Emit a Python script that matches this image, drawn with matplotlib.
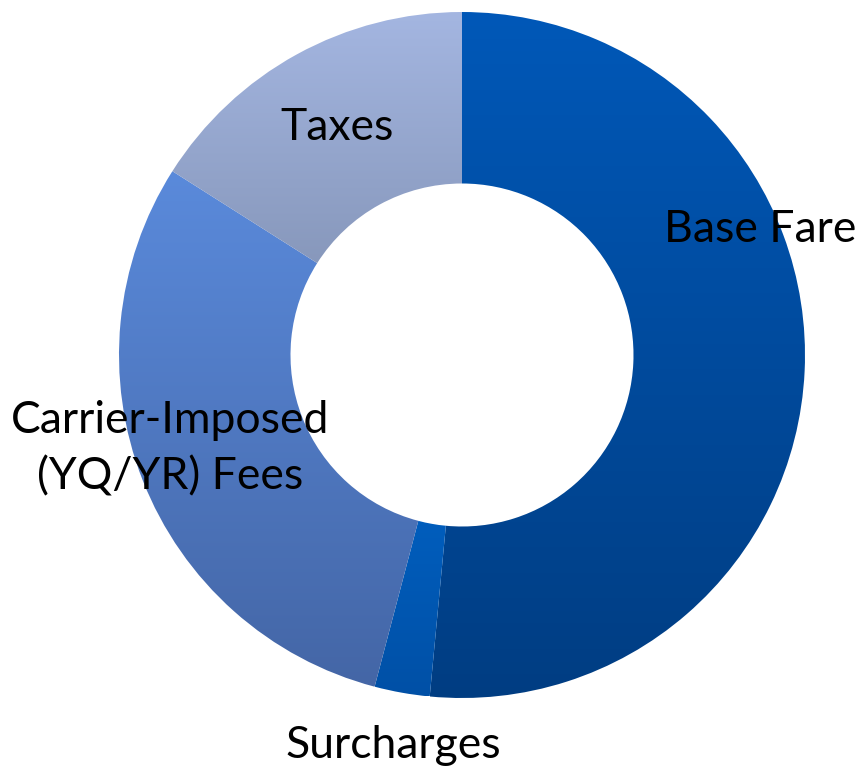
import matplotlib
matplotlib.use("Agg")
import matplotlib.pyplot as plt
import numpy as np
from matplotlib.colors import LinearSegmentedColormap

categories = ["Base Fare", "Surcharges", "Carrier-Imposed\n(YQ/YR) Fees", "Taxes"]
values = [51.5, 2.6, 29.9, 16.0]
top_colors = ["#0058B8", "#006AD2", "#5A8ADB", "#A4B6E1"]
bottom_colors = ["#003D82", "#0050A6", "#4466A6", "#7D8DAE"]

W, H = 856, 773
fig = plt.figure(figsize=(W / 100, H / 100), dpi=100)
ax = fig.add_axes([0, 0, 1, 1])

cx, cy, R = 462, H - 355, 343
wedges, _ = ax.pie(values, startangle=90, counterclock=False, radius=R,
                   center=(cx, cy), frame=True,
                   wedgeprops=dict(width=R * 0.5, edgecolor="none", linewidth=0))

grad = np.linspace(0, 1, 256).reshape(-1, 1)
for w, tc, bc in zip(wedges, top_colors, bottom_colors):
    verts = w.get_path().vertices
    y0, y1 = verts[:, 1].min(), verts[:, 1].max()
    x0, x1 = verts[:, 0].min(), verts[:, 0].max()
    cmap = LinearSegmentedColormap.from_list("g", [bc, tc])
    w.set_facecolor("none")
    im = ax.imshow(grad, cmap=cmap, extent=(x0, x1, y0, y1), origin="lower",
                   aspect="auto", zorder=1, interpolation="bilinear")
    im.set_clip_path(w)

ax.set_xlim(0, W)
ax.set_ylim(0, H)
ax.set_aspect("equal")
ax.axis("off")

font = dict(family="Lato", fontweight="normal", fontsize=32, color="black",
            ha="center", va="center", zorder=5)
label_pos = [(760, H - 230), (393, H - 745), (170, H - 449), (337, H - 128)]
for lab, (x, y) in zip(categories, label_pos):
    ax.text(x, y, lab, linespacing=1.45, **font)

fig.savefig("out.png", dpi=100)
